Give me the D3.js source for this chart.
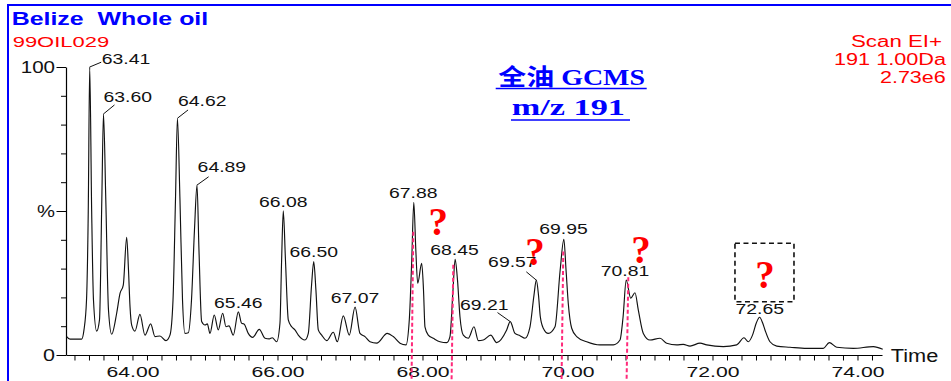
<!DOCTYPE html>
<html>
<head>
<meta charset="utf-8">
<script src="https://cdn.jsdelivr.net/npm/d3@7"></script>
<style>
  html, body { margin: 0; padding: 0; background: #fff; overflow: hidden; }
  text { font-family: "Liberation Sans", Arial, sans-serif; }
</style>
</head>
<body>
<svg id="chart" width="951" height="381"></svg>
<script>
// Mass chromatogram m/z 191, Belize whole oil: retention time (min) vs relative abundance (%)
const retentionTime = [
  63.092, 63.138, 63.299, 63.331, 63.366, 63.390, 63.41, 63.437, 63.462, 63.506,
  63.545, 63.577, 63.60, 63.632, 63.669, 63.713, 63.782, 63.828, 63.873, 63.920,
  63.945, 63.966, 63.989, 64.034, 64.103, 64.172, 64.251, 64.310, 64.379, 64.462,
  64.517, 64.559, 64.593, 64.62, 64.655, 64.690, 64.724, 64.770, 64.814, 64.855,
  64.89, 64.917, 64.954, 65.000, 65.032, 65.069, 65.128, 65.183, 65.244, 65.290,
  65.331, 65.390, 65.46, 65.506, 65.538, 65.597, 65.658, 65.749, 65.828, 65.887,
  65.928, 65.989, 66.034, 66.057, 66.08, 66.110, 66.149, 66.196, 66.241, 66.287,
  66.379, 66.425, 66.470, 66.50, 66.530, 66.563, 66.610, 66.679, 66.770, 66.825,
  66.908, 66.990, 67.07, 67.138, 67.207, 67.276, 67.368, 67.514, 67.597, 67.690,
  67.772, 67.818, 67.852, 67.88, 67.908, 67.934, 67.989, 68.014, 68.034, 68.080,
  68.149, 68.241, 68.334, 68.379, 68.421, 68.45, 68.483, 68.517, 68.563, 68.632,
  68.710, 68.770, 68.839, 68.941, 69.023, 69.161, 69.21, 69.276, 69.345, 69.414,
  69.483, 69.538, 69.57, 69.600, 69.625, 69.666, 69.735, 69.828, 69.899, 69.95,
  69.980, 70.011, 70.058, 70.127, 70.265, 70.448, 70.632, 70.724, 70.767, 70.81,
  70.872, 70.931, 70.977, 71.046, 71.138, 71.276, 71.368, 71.506, 71.597, 71.690,
  71.828, 71.920, 72.149, 72.334, 72.434, 72.494, 72.552, 72.604, 72.65, 72.692,
  72.724, 72.793, 72.886, 73.069, 73.299, 73.528, 73.611, 73.713, 73.942, 74.218,
  74.348
];
const relativeAbundance = [
  6.4, 5.5, 5.5, 8.7, 19.1, 50.0, 100.0, 50.0, 19.1, 8.3,
  12.2, 53.8, 83.7, 53.8, 15.6, 7.2, 14.5, 21.4, 24.3, 40.9,
  29.5, 16.8, 10.4, 8.3, 14.1, 6.9, 10.8, 6.4, 6.6, 5.0,
  6.9, 19.1, 53.8, 82.2, 53.8, 19.1, 7.5, 7.7, 19.1, 43.4,
  59.0, 36.5, 11.6, 10.4, 10.8, 7.5, 13.9, 8.7, 14.5, 9.8,
  10.1, 6.9, 15.0, 11.0, 10.8, 7.5, 6.1, 8.9, 5.8, 5.6,
  6.0, 4.6, 11.0, 33.0, 50.1, 33.0, 12.2, 9.8, 8.7, 6.9,
  5.2, 7.5, 24.3, 32.4, 22.6, 8.7, 6.9, 5.0, 7.9, 4.6,
  13.6, 6.9, 16.6, 7.5, 6.4, 4.6, 4.1, 7.5, 6.4, 4.1,
  3.5, 12.2, 33.0, 53.0, 36.5, 24.9, 31.8, 22.6, 9.8, 6.9,
  5.8, 4.6, 4.3, 6.4, 22.6, 33.2, 26.0, 13.3, 6.9, 5.8,
  9.8, 5.0, 5.2, 6.9, 4.3, 8.7, 11.6, 7.5, 6.7, 5.8,
  9.8, 20.8, 26.0, 20.8, 13.3, 9.3, 7.5, 9.8, 29.5, 40.2,
  29.5, 17.9, 9.3, 6.4, 4.6, 3.5, 3.5, 5.2, 13.3, 26.0,
  19.7, 21.6, 15.6, 7.5, 5.2, 5.8, 4.1, 3.5, 3.7, 3.1,
  4.1, 3.5, 2.9, 3.5, 6.0, 4.6, 6.9, 11.1, 13.1, 11.1,
  8.7, 4.6, 3.1, 2.7, 2.3, 2.3, 4.3, 2.7, 2.3, 2.9,
  2.0
];

// Peaks annotated with their retention times
const labelledPeaks = [63.41, 63.60, 64.62, 64.89, 65.46, 66.08, 66.50, 67.07,
                       67.88, 68.45, 69.21, 69.57, 69.95, 70.81, 72.65];

// Peaks flagged with dashed drop lines: retention time at top, top level (%)
const flaggedTime = [67.873, 68.425, 69.942, 70.839];
const flaggedTop  = [42.8, 31.3, 35.9, 27.0];

// Question marks (time, level %) and the boxed query region
const queryTime  = [68.218, 69.552, 71.014, 72.724];
const queryLevel = [41.7, 31.2, 31.8, 23.2];
const queryBoxTime  = [72.31, 73.124];
const queryBoxLevel = [18.5, 38.8];

// Axes
const xTickStep = 0.2;
const xTickFirst = 63.2, xTickLast = 74.2;
const xLabelEvery = 2;
const yTicks = [0, 10, 20, 30, 40, 50, 60, 70, 80, 90, 100];
const yLabelValues = [0, 50, 100];
const yLabelTexts  = ["0", "%", "100"];

// Header text
const sampleTitle = "Belize  Whole oil";
const sampleId = "99OIL029";
const scanInfo = ["Scan EI+", "191 1.00Da", "2.73e6"];
const methodTitle = ["全油 GCMS", "m/z 191"];

// ---------------------------------------------------------------
const svg = d3.select("#chart");
const blue = "#0000ff", red = "#ff0000", pink = "#ff2a7a";

const x = d3.scaleLinear().domain([63.083, 74.338]).range([66, 882]);
const y = d3.scaleLinear().domain([0, 100]).range([355, 67]);

// frame
svg.append("rect").attr("x", 8).attr("y", 5).attr("width", 1000).attr("height", 420)
  .attr("fill", "none").attr("stroke", blue).attr("stroke-width", 2);

// header
function stretchedText(g, str, opts) {
  const t = g.append("text").text(str)
    .attr("x", opts.x).attr("y", opts.y)
    .attr("font-size", opts.size)
    .attr("fill", opts.fill || "#000")
    .attr("text-anchor", opts.anchor || "start")
    .style("white-space", "pre");
  if (opts.weight) t.attr("font-weight", opts.weight);
  if (opts.family) t.style("font-family", opts.family);
  if (opts.width) t.attr("textLength", opts.width).attr("lengthAdjust", "spacingAndGlyphs");
  return t;
}

stretchedText(svg, sampleTitle, {x: 11.7, y: 25, size: 18, weight: "bold", fill: blue, width: 196.5});
stretchedText(svg, sampleId, {x: 12.7, y: 46.5, size: 15.5, fill: red, width: 96.5});

const scanWidths = [91, 112, 65.7];
const scanRight = [942, 946, 945.7];
scanInfo.forEach((s, i) => {
  stretchedText(svg, s, {x: scanRight[i], y: 46.7 + i * 18.3, size: 16, fill: red,
                         anchor: "end", width: scanWidths[i]});
});

// method title, underlined
const mtX = [498.3, 511.7], mtW = [146.7, 113.3], mtY = [85, 115];
const ulX = [[495.7, 646.7], [511, 630]], ulY = [88.5, 120];
methodTitle.forEach((s, i) => {
  stretchedText(svg, s, {x: mtX[i], y: mtY[i], size: 23, weight: "bold", fill: blue,
    family: '"Liberation Serif", "Noto Sans CJK SC", serif', width: mtW[i]});
  svg.append("line").attr("x1", ulX[i][0]).attr("x2", ulX[i][1])
    .attr("y1", ulY[i]).attr("y2", ulY[i]).attr("stroke", blue).attr("stroke-width", 1.6);
});

// x axis
const xTicks = d3.range(Math.round((xTickLast - xTickFirst) / xTickStep) + 1)
  .map(i => +(xTickFirst + i * xTickStep).toFixed(1));
const isMajor = d => Math.abs(d / xLabelEvery - Math.round(d / xLabelEvery)) < 1e-6;
const xAxis = d3.axisBottom(x).tickValues(xTicks).tickSize(5.5).tickSizeOuter(0)
  .tickFormat(d => isMajor(d) ? d.toFixed(2) : "");
const gx = svg.append("g").attr("transform", `translate(0,${y(0)})`).call(xAxis);
gx.select(".domain").attr("stroke", "#000").attr("stroke-width", 1.2);
gx.selectAll(".tick line").attr("stroke", "#000").attr("stroke-width", 1);
gx.selectAll(".tick text")
  .attr("y", 22.3).attr("dy", null)
  .attr("font-size", 15.5).attr("fill", "#111")
  .style("font-family", '"Liberation Sans", Arial, sans-serif')
  .each(function(d) { if (isMajor(d)) d3.select(this).attr("textLength", 53).attr("lengthAdjust", "spacingAndGlyphs"); });
stretchedText(svg, "Time", {x: 890.7, y: 361.7, size: 17.5, fill: "#111", width: 47.6});

// y axis
const yAxis = d3.axisLeft(y).tickValues(yTicks).tickSize(5).tickSizeOuter(0)
  .tickFormat(d => { const k = yLabelValues.indexOf(d); return k >= 0 ? yLabelTexts[k] : ""; });
const gy = svg.append("g").attr("transform", `translate(${x.range()[0]},0)`).call(yAxis);
gy.select(".domain").attr("stroke", "#000").attr("stroke-width", 1.2);
gy.selectAll(".tick line").attr("stroke", "#000")
  .attr("x2", d => yLabelValues.includes(d) ? -9.5 : -5);
const yLabelWidths = [12, 18, 34.3];
gy.selectAll(".tick text")
  .attr("x", -11).attr("dy", "0.36em")
  .attr("font-size", 16.5).attr("fill", "#111")
  .style("font-family", '"Liberation Sans", Arial, sans-serif')
  .each(function(d) {
    const k = yLabelValues.indexOf(d);
    if (k >= 0) d3.select(this).attr("textLength", yLabelWidths[k]).attr("lengthAdjust", "spacingAndGlyphs");
  });

// trace
const trace = retentionTime.map((t, i) => [t, relativeAbundance[i]]);
svg.append("path").datum(trace)
  .attr("fill", "none").attr("stroke", "#111").attr("stroke-width", 1.15)
  .attr("stroke-linejoin", "round")
  .attr("d", d3.line().x(d => x(d[0])).y(d => y(d[1])).curve(d3.curveMonotoneX));

// peak labels: [anchor, dx, dy, leader end dx, leader end dy]
const labelLayout = {
  "63.41": ["start", 12, -2.8, 11.5, -4.8],
  "63.60": ["start", 0, -12.3, 11, -9],
  "64.62": ["start", 0.6, -12.3, 10.6, -8.3],
  "64.89": ["start", 0.6, -13.3, 11.6, -8.3],
  "65.46": ["middle", 0, -3.4],
  "66.08": ["middle", 0, -4],
  "66.50": ["middle", 0, -5],
  "67.07": ["middle", 0, -4],
  "67.88": ["middle", -0.5, -4],
  "68.45": ["middle", -0.6, -4.3],
  "69.21": ["end", -1.7, -11.7, -12.7, -9],
  "69.57": ["end", 0.3, -12.7, -10, -8.3],
  "69.95": ["middle", -0.4, -5.3],
  "70.81": ["middle", -1.2, -4],
  "72.65": ["middle", 0.2, -3]
};
const gl = svg.append("g");
labelledPeaks.forEach(t => {
  const idx = retentionTime.findIndex(r => Math.abs(r - t) < 1e-9);
  const px = x(t), py = y(relativeAbundance[idx]);
  const key = t.toFixed(2);
  const L = labelLayout[key];
  if (L.length > 3) {
    gl.append("line").attr("x1", px).attr("y1", py).attr("x2", px + L[3]).attr("y2", py + L[4])
      .attr("stroke", "#111").attr("stroke-width", 1);
  }
  stretchedText(gl, key, {x: px + L[1], y: py + L[2], size: 15.5, fill: "#111",
                          anchor: L[0], width: 48.5});
});

// dashed drop lines
flaggedTime.forEach((t, i) => {
  svg.append("line")
    .attr("x1", x(t)).attr("y1", y(flaggedTop[i]))
    .attr("x2", x(t) - 1.8).attr("y2", 385)
    .attr("stroke", pink).attr("stroke-width", 2).attr("stroke-dasharray", "4,2.5");
});

// question marks and query box
queryTime.forEach((t, i) => {
  svg.append("text").text("?")
    .attr("x", x(t)).attr("y", y(queryLevel[i]))
    .attr("text-anchor", "middle").attr("font-size", 39).attr("font-weight", "bold")
    .attr("fill", red).style("font-family", '"Liberation Serif", "DejaVu Serif", serif');
});
svg.append("rect")
  .attr("x", x(queryBoxTime[0])).attr("y", y(queryBoxLevel[1]))
  .attr("width", x(queryBoxTime[1]) - x(queryBoxTime[0]))
  .attr("height", y(queryBoxLevel[0]) - y(queryBoxLevel[1]))
  .attr("fill", "none").attr("stroke", "#111").attr("stroke-width", 1.6)
  .attr("stroke-dasharray", "5,3.5");
</script>
</body>
</html>
